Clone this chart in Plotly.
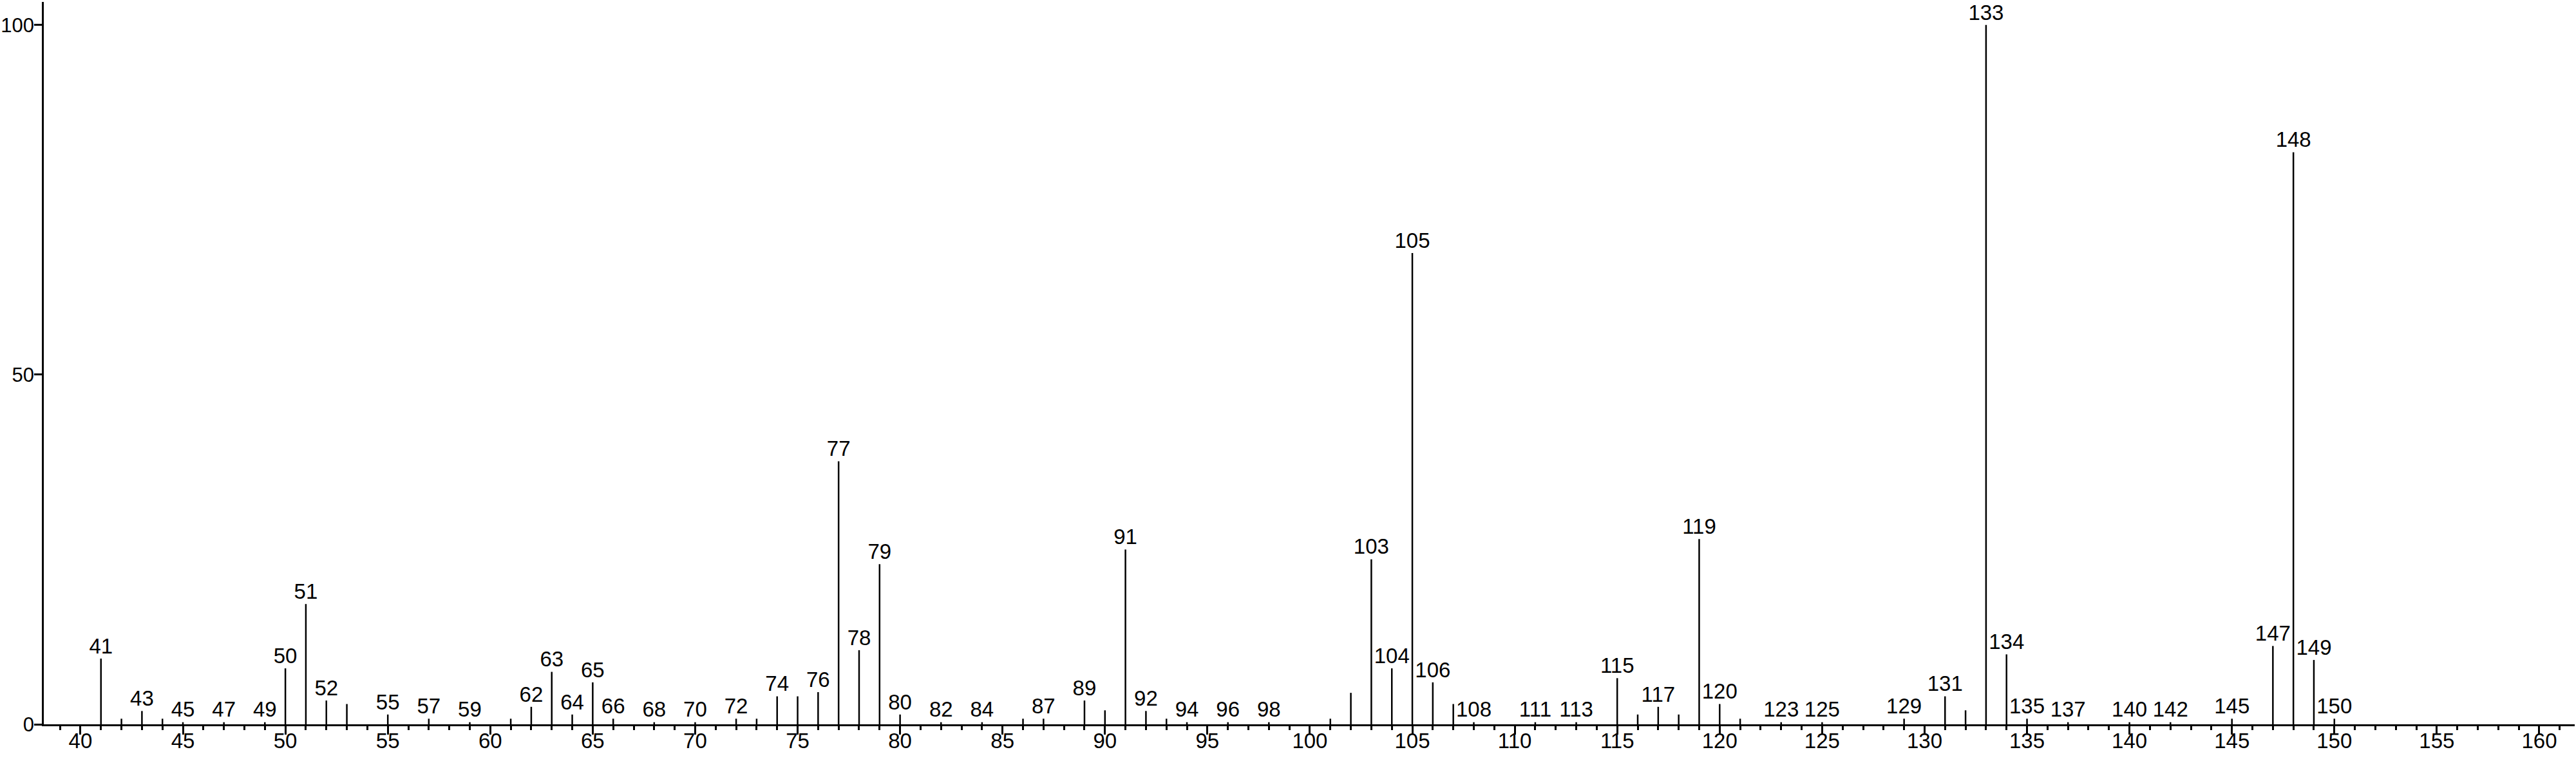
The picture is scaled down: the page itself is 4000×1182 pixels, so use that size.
import plotly.graph_objects as go

# m/z values of the peaks
mz = [41, 42, 43, 44, 45, 47, 49, 50, 51, 52, 53, 55, 57, 59, 61, 62, 63, 64, 65, 66,
      68, 70, 72, 73, 74, 75, 76, 77, 78, 79, 80, 82, 84, 86, 87, 89, 90, 91, 92, 93,
      94, 96, 98, 101, 102, 103, 104, 105, 106, 107, 108, 111, 113, 115, 116, 117, 118,
      119, 120, 121, 123, 125, 129, 131, 132, 133, 134, 135, 137, 140, 142, 145, 147,
      148, 149, 150]

# relative intensities (%)
intensity = [9.4, 0.8, 1.9, 0.8, 0.3, 0.3, 0.3, 8.0, 17.2, 3.4, 2.9, 1.4, 0.8, 0.3, 0.8, 2.5,
             7.5, 1.4, 6.0, 0.8, 0.3, 0.3, 0.8, 0.8, 4.0, 4.0, 4.6, 37.6, 10.6, 22.9, 1.4,
             0.3, 0.3, 0.8, 0.8, 3.4, 2.0, 25.0, 1.9, 0.8, 0.3, 0.3, 0.3, 0.8, 4.5, 23.6,
             8.0, 67.4, 6.0, 2.9, 0.3, 0.3, 0.3, 6.6, 1.4, 2.5, 1.4, 26.5, 2.9, 0.8, 0.3,
             0.3, 0.8, 4.0, 2.0, 100.0, 10.0, 0.8, 0.3, 0.3, 0.3, 0.8, 11.2, 81.8, 9.2, 0.8]

# peaks that carry an m/z label
labeled = [41, 43, 45, 47, 49, 50, 51, 52, 55, 57, 59, 62, 63, 64, 65, 66, 68, 70, 72, 74,
           76, 77, 78, 79, 80, 82, 84, 87, 89, 91, 92, 94, 96, 98, 103, 104, 105, 106, 108,
           111, 113, 115, 117, 119, 120, 123, 125, 129, 131, 133, 134, 135, 137, 140, 142,
           145, 147, 148, 149, 150]

x_ticks = list(range(40, 161, 5))
y_ticks = [0, 50, 100]

FONT = "Liberation Sans, Arial, Helvetica, sans-serif"
FS = 33
X_RANGE = [38.21, 161.73]
Y_RANGE = [0, 103.3]

# stick lines
sx, sy = [], []
for m, h in zip(mz, intensity):
    sx += [m, m, None]
    sy += [0, h, None]

lab_x = [m for m in mz if m in labeled]
lab_y = [h for m, h in zip(mz, intensity) if m in labeled]
lab_t = [str(m) for m in lab_x]

fig = go.Figure()
fig.add_trace(go.Scatter(x=sx, y=sy, mode="lines",
                         line=dict(color="black", width=2.5),
                         hoverinfo="skip", showlegend=False))
# peak labels, drawn on the overlay axes that carry the tick labels
fig.add_trace(go.Scatter(x=lab_x, y=lab_y, mode="text", text=lab_t,
                         xaxis="x2", yaxis="y2",
                         textposition="top center",
                         textfont=dict(family=FONT, size=FS, color="black"),
                         cliponaxis=False, showlegend=False))

fig.update_layout(
    width=4000, height=1182,
    margin=dict(l=68, r=2, t=3, b=57, autoexpand=False),
    plot_bgcolor="white", paper_bgcolor="white",
    font=dict(family=FONT, size=FS, color="black"),
    # axis that draws line + ticks (no labels)
    xaxis=dict(
        automargin=False, range=X_RANGE,
        tickvals=x_ticks, showticklabels=False,
        ticks="outside", ticklen=13, tickwidth=3, tickcolor="black",
        showline=True, linewidth=3, linecolor="black",
        showgrid=False, zeroline=False,
        minor=dict(dtick=1, tick0=0, ticks="outside", ticklen=6, tickwidth=2.5,
                   tickcolor="black", showgrid=False),
    ),
    yaxis=dict(
        automargin=False, range=Y_RANGE,
        tickvals=y_ticks, showticklabels=False,
        ticks="outside", ticklen=12, tickwidth=3, tickcolor="black",
        showline=True, linewidth=3, linecolor="black",
        showgrid=False, zeroline=False,
    ),
    # overlay axes that only carry the tick labels
    xaxis2=dict(
        overlaying="x", matches="x", anchor="y2", side="bottom",
        automargin=False, range=X_RANGE,
        tickvals=x_ticks, ticktext=[str(v) for v in x_ticks],
        ticks="", showline=False, showgrid=False, zeroline=False,
        tickfont=dict(family=FONT, size=FS, color="black"),
        ticklabelstandoff=3,
    ),
    yaxis2=dict(
        overlaying="y", matches="y", anchor="x2", side="left",
        automargin=False, range=Y_RANGE,
        tickvals=y_ticks, ticktext=[str(v) for v in y_ticks],
        ticks="", showline=False, showgrid=False, zeroline=False,
        tickfont=dict(family=FONT, size=31, color="black"),
        ticklabelstandoff=14,
    ),
)

fig.write_html(
    "out.html",
    config={"displayModeBar": False},
    post_script="document.body.style.margin='0';document.body.style.overflow='hidden';",
)
